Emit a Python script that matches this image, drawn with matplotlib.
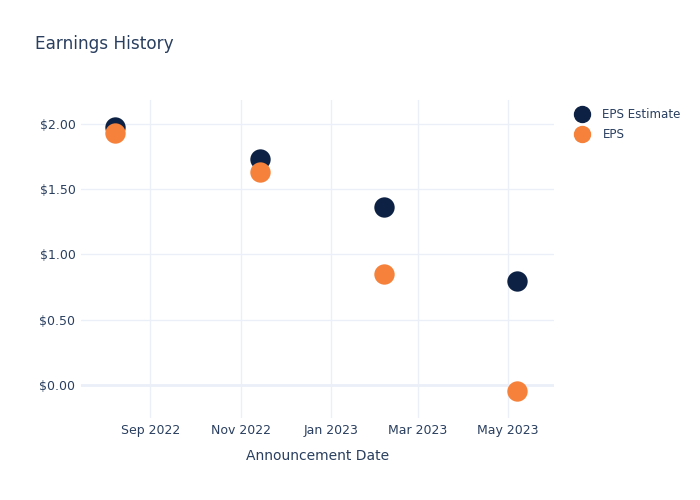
import datetime as dt

import matplotlib
matplotlib.use("Agg")
import matplotlib.pyplot as plt
import matplotlib.dates as mdates
from matplotlib.lines import Line2D
from matplotlib.ticker import FuncFormatter

# ── data ──
dates = [dt.date(2022, 8, 8), dt.date(2022, 11, 14), dt.date(2023, 2, 6), dt.date(2023, 5, 7)]
eps_estimate = [1.97, 1.73, 1.36, 0.80]
eps_actual = [1.93, 1.63, 0.85, -0.04]
y_ticks = [0.0, 0.5, 1.0, 1.5, 2.0]
x_ticks = [dt.date(2022, 9, 1), dt.date(2022, 11, 1), dt.date(2023, 1, 1),
           dt.date(2023, 3, 1), dt.date(2023, 5, 1)]

NAVY = "#0d2144"
ORANGE = "#f5813a"
TEXT = "#2a3f5f"
GRID = "#ebf0f8"

W, H = 700, 500
fig = plt.figure(figsize=(W / 100, H / 100), dpi=100)
fig.patch.set_facecolor("white")
ax = fig.add_axes([81 / W, 1 - 418 / H, (554 - 81) / W, (418 - 100) / H])
ax.set_facecolor("white")

ax.scatter(dates, eps_estimate, s=215, color=NAVY, zorder=3, linewidths=0)
ax.scatter(dates, eps_actual, s=215, color=ORANGE, zorder=4, linewidths=0)

ax.set_xlim(dt.date(2022, 7, 16), dt.date(2023, 6, 1))
ax.set_ylim(-0.25, 2.18)

ax.set_xticks(x_ticks)
ax.xaxis.set_major_formatter(mdates.DateFormatter("%b %Y"))
ax.set_yticks(y_ticks)
ax.yaxis.set_major_formatter(FuncFormatter(lambda v, _: f"${v:.2f}"))

ax.grid(True, color=GRID, lw=1, zorder=0)
ax.axhline(0, color=GRID, lw=2, zorder=1)
ax.tick_params(length=0, colors=TEXT, labelsize=9)
ax.tick_params(axis="y", pad=4)
ax.tick_params(axis="x", pad=4)
for sp in ax.spines.values():
    sp.set_visible(False)

ax.set_xlabel("Announcement Date", color=TEXT, fontsize=10, labelpad=9)
fig.text(35 / W, 1 - 44 / H, "Earnings History", color=TEXT, fontsize=12.2, va="center")

handles = [
    Line2D([], [], ls="", marker="o", ms=11.5, color=NAVY, mec=NAVY, label="EPS Estimate"),
    Line2D([], [], ls="", marker="o", ms=11.5, color=ORANGE, mec=ORANGE, label="EPS"),
]
fig.legend(handles=handles, loc="upper left", bbox_to_anchor=(575 / W, 1 - 108 / H),
           frameon=False, fontsize=8.6, labelcolor=TEXT, handletextpad=1.05,
           labelspacing=0.6, borderaxespad=0, borderpad=0, handlelength=1.25)

fig.savefig("out.png", dpi=100, facecolor="white")
